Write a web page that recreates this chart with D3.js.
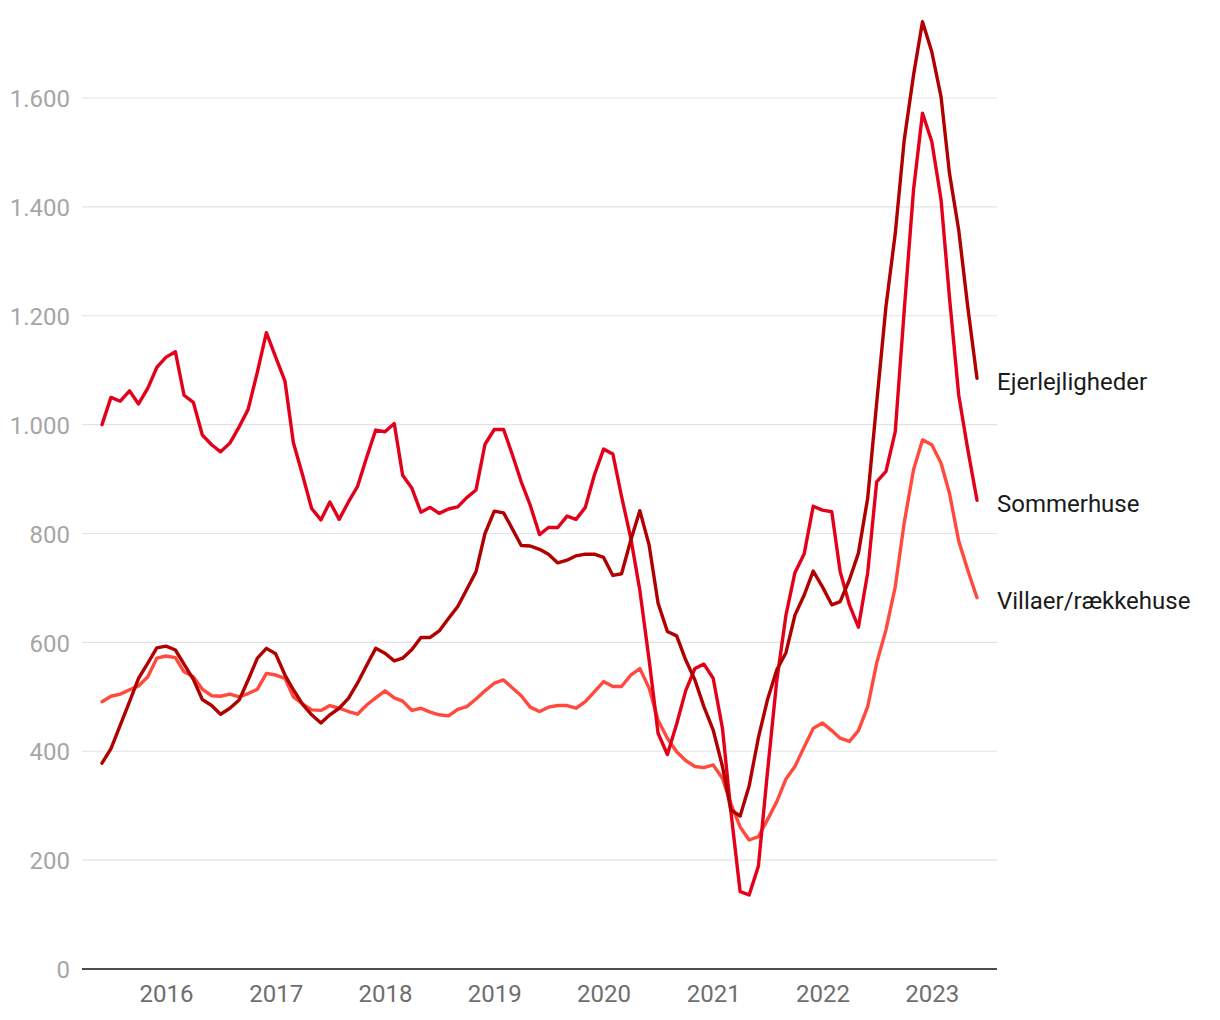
<!DOCTYPE html>
<html>
<head>
<meta charset="utf-8">
<script src="https://cdn.jsdelivr.net/npm/d3@7"></script>
<style>
  html, body { margin: 0; padding: 0; background: #fff; }
  svg { display: block; font-family: Roboto, "Noto Sans", sans-serif; }
</style>
</head>
<body>
<svg id="chart" width="1220" height="1020"></svg>
<script>
// ---- Data (monthly, June 2015 – June 2023) ----
const startMonth = "2015-06";
const seriesNames = ["Villaer/rækkehuse", "Sommerhuse", "Ejerlejligheder"];

const sommerhuse = [1000,1050,1043,1062,1038,1067,1105,1124,1134,1054,1041,981,963,950,966,996,1028,1097,1169,1124,1080,967,907,846,825,858,826,858,886,940,990,987,1002,907,883,839,848,837,845,849,866,880,964,991,991,947,895,852,798,811,811,832,826,848,907,955,946,868,791,696,568,433,394,450,511,552,560,534,442,290,142,136,189,360,528,650,728,763,850,843,840,730,669,628,728,895,914,987,1210,1431,1572,1520,1413,1234,1054,955,861];

const ejerlejligheder = [378,405,448,491,534,562,590,593,586,560,532,495,484,468,479,494,531,571,589,579,540,513,486,467,452,467,479,497,525,558,589,580,566,571,587,609,609,621,644,666,697,730,800,841,838,810,778,777,771,762,746,751,759,762,762,756,723,726,788,842,779,672,620,612,568,531,482,439,372,292,281,336,425,494,549,581,650,687,731,702,669,675,715,764,865,1040,1217,1351,1523,1642,1740,1685,1602,1462,1357,1217,1085];

const villaer = [491,501,505,513,520,537,571,575,572,546,537,514,502,501,505,500,506,514,543,540,534,500,487,476,475,484,479,473,468,485,498,511,498,492,475,479,472,467,465,477,482,496,511,525,531,517,502,481,473,481,484,484,479,491,509,528,519,519,540,552,516,457,424,399,383,372,370,375,350,304,261,237,243,274,307,349,372,408,442,452,438,424,418,438,482,562,623,702,820,917,972,963,929,874,786,733,682];

const yTicks = [0, 200, 400, 600, 800, 1000, 1200, 1400, 1600];
const xTickYears = [2016, 2017, 2018, 2019, 2020, 2021, 2022, 2023];

const seriesValues = [villaer, sommerhuse, ejerlejligheder];
const seriesColors = ["#ff4a3d", "#e3001b", "#b00000"];

// ---- Build ----
const parse = d3.timeParse("%Y-%m");
const t0 = parse(startMonth);
const dates = d3.range(villaer.length).map(i => d3.timeMonth.offset(t0, i));

const svg = d3.select("#chart");
const left = 82, right = 997, plotStart = 102, plotEnd = 977;

const x = d3.scaleTime().domain([dates[0], dates[dates.length - 1]]).range([plotStart, plotEnd]);
const y = d3.scaleLinear().domain([0, 1600]).range([969, 98]);

const loc = d3.formatLocale({decimal: ",", thousands: ".", grouping: [3], currency: ["", " kr"]});
const fmt = loc.format(",d");

// gridlines
const grid = svg.append("g");
grid.selectAll("line").data(yTicks.filter(d => d > 0)).join("line")
  .attr("x1", left).attr("x2", right)
  .attr("y1", d => y(d)).attr("y2", d => y(d))
  .attr("stroke", "#e3e3e3").attr("stroke-width", 1.2);

// y axis labels
const yAxis = svg.append("g").attr("transform", `translate(70,0)`)
  .call(d3.axisLeft(y).tickValues(yTicks).tickFormat(fmt).tickSize(0).tickPadding(0));
yAxis.select(".domain").remove();
yAxis.selectAll("text")
  .attr("fill", "#a6a6a6").attr("font-size", 24).attr("font-family", "Roboto, sans-serif")
  .attr("dy", "0.36em");

// x axis
const xAxis = svg.append("g").attr("transform", `translate(0,969)`)
  .call(d3.axisBottom(x).tickValues(xTickYears.map(yy => new Date(yy, 0, 1)))
    .tickFormat(d3.timeFormat("%Y")).tickSize(0).tickPadding(16));
xAxis.select(".domain").remove();
xAxis.selectAll("text")
  .attr("fill", "#6e6e6e").attr("font-size", 24).attr("font-family", "Roboto, sans-serif");

// baseline
svg.append("line").attr("x1", left).attr("x2", right)
  .attr("y1", y(0)).attr("y2", y(0))
  .attr("stroke", "#111").attr("stroke-width", 1.6);

// lines
const line = d3.line().x((d, i) => x(dates[i])).y(d => y(d));
seriesValues.forEach((vals, k) => {
  svg.append("path").datum(vals)
    .attr("d", line)
    .attr("fill", "none")
    .attr("stroke", seriesColors[k])
    .attr("stroke-width", 3.4)
    .attr("stroke-linejoin", "round")
    .attr("stroke-linecap", "round");
});

// end labels
seriesValues.forEach((vals, k) => {
  svg.append("text")
    .attr("x", right)
    .attr("y", y(vals[vals.length - 1]))
    .attr("dy", "0.47em")
    .attr("font-size", 24)
    .attr("fill", "#1a1a1a")
    .text(seriesNames[k]);
});
</script>
</body>
</html>
